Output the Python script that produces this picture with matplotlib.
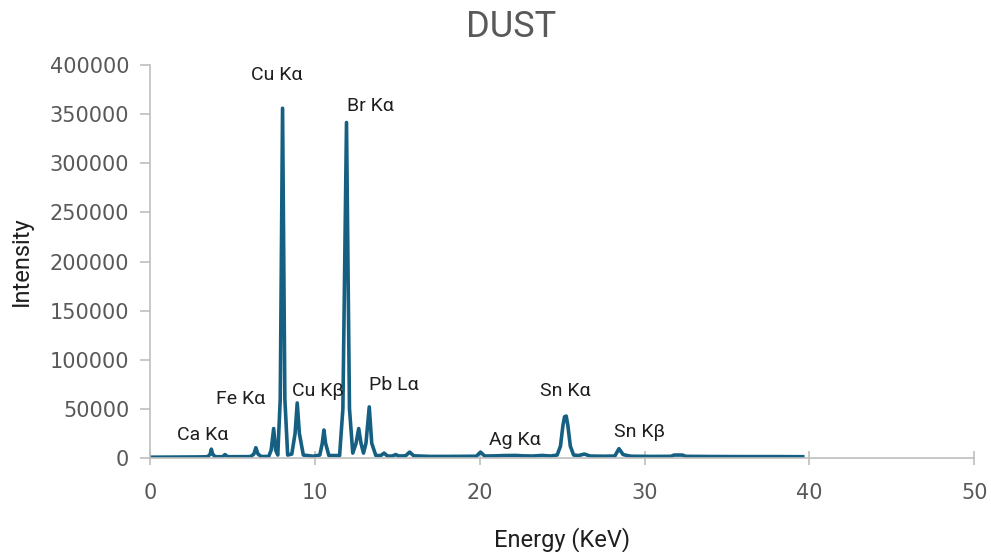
import matplotlib
matplotlib.use("Agg")
import matplotlib.pyplot as plt

# spectrum points (energy in keV, counts)
energy = [0.0, 1.0, 2.0, 3.0, 3.5, 3.65, 3.72, 3.8, 3.95, 4.4, 4.55, 4.7,
          6.1, 6.3, 6.42, 6.55, 6.75, 7.2, 7.35, 7.5, 7.62, 7.75, 7.9, 8.04,
          8.18, 8.35, 8.6, 8.8, 8.93, 9.06, 9.3, 9.9, 10.3, 10.45, 10.55, 10.65,
          10.85, 11.5, 11.7, 11.92, 12.1, 12.3, 12.5, 12.66, 12.8, 12.95, 13.1,
          13.3, 13.45, 13.7, 14.0, 14.2, 14.4, 14.7, 14.9, 15.1, 15.5, 15.75,
          16.0, 17.0, 18.0, 19.0, 19.8, 20.05, 20.3, 21.0, 21.5, 22.2, 22.6,
          23.2, 23.8, 24.3, 24.7, 24.9, 25.05, 25.15, 25.25, 25.35, 25.5, 25.7,
          26.0, 26.35, 26.7, 27.5, 28.2, 28.45, 28.7, 28.95, 29.2, 30.5, 31.6,
          31.8, 32.3, 32.5, 34.0, 36.0, 38.0, 39.6]
intensity = [800, 900, 1000, 1100, 1300, 4000, 9000, 4000, 1300, 1300, 3500, 1300,
             1400, 4000, 10500, 4000, 1500, 1600, 8000, 30000, 8000, 3000, 60000, 356000,
             60000, 3000, 4000, 25000, 56000, 25000, 3000, 1800, 3000, 15000, 28500, 15000,
             2500, 2500, 50000, 341500, 50000, 5000, 15000, 30000, 15000, 5000, 15000,
             52000, 15000, 2500, 2500, 5000, 2000, 2000, 3500, 2000, 2200, 6000,
             2200, 1600, 1600, 1700, 1800, 6000, 2000, 2200, 2500, 2600, 2200,
             2000, 2600, 2000, 3000, 12000, 33000, 42000, 42700, 33000, 12000, 3000,
             2500, 4000, 2000, 1800, 2000, 9500, 3500, 2500, 1800, 1600, 1700,
             3000, 3000, 1700, 1500, 1400, 1400, 1300]

peak_names = ["Ca Kα", "Fe Kα", "Cu Kα", "Cu Kβ", "Br Kα", "Pb Lα", "Ag Kα", "Sn Kα", "Sn Kβ"]
label_xy = [(3.22, 23400), (5.52, 60000), (7.71, 389800), (10.19, 68200), (13.35, 358300),
            (14.81, 74300), (22.15, 18300), (25.18, 68200), (29.67, 26500)]

plt.rcParams['font.family'] = ['Roboto', 'DejaVu Sans']

fig = plt.figure(figsize=(9.91, 5.52), dpi=100)
ax = fig.add_axes([0.1514, 0.1703, 0.8316, 0.7119])

ax.plot(energy, intensity, color='#156082', linewidth=2.6, solid_joinstyle='round')

for name, (x, y) in zip(peak_names, label_xy):
    ax.text(x, y, name, ha='center', va='center', fontsize=14, color='#1f1f1f')

ax.set_xlim(0, 50)
ax.set_ylim(0, 400000)
ax.set_xticks(range(0, 51, 10))
ax.set_yticks(range(0, 400001, 50000))

for s in ['top', 'right']:
    ax.spines[s].set_visible(False)
for s in ['left', 'bottom']:
    ax.spines[s].set_color('#bfbfbf')
    ax.spines[s].set_linewidth(1.2)
ax.tick_params(axis='x', direction='inout', length=10, color='#bfbfbf', width=1.2,
               labelsize=15, labelcolor='#595959', pad=13)
ax.tick_params(axis='y', direction='out', length=7, color='#bfbfbf', width=1.2,
               labelsize=15, labelcolor='#595959', pad=8)
for lbl in ax.get_xticklabels() + ax.get_yticklabels():
    lbl.set_family('DejaVu Sans')

ax.set_xlabel("Energy (KeV)", fontsize=17, color='#1f1f1f', labelpad=17)
ax.set_ylabel("Intensity", fontsize=17, color='#1f1f1f', labelpad=12)
fig.text(511 / 991, 1 - 27 / 552, "DUST", ha='center', va='center', fontsize=26, color='#595959')

fig.savefig("out.png", dpi=100)
